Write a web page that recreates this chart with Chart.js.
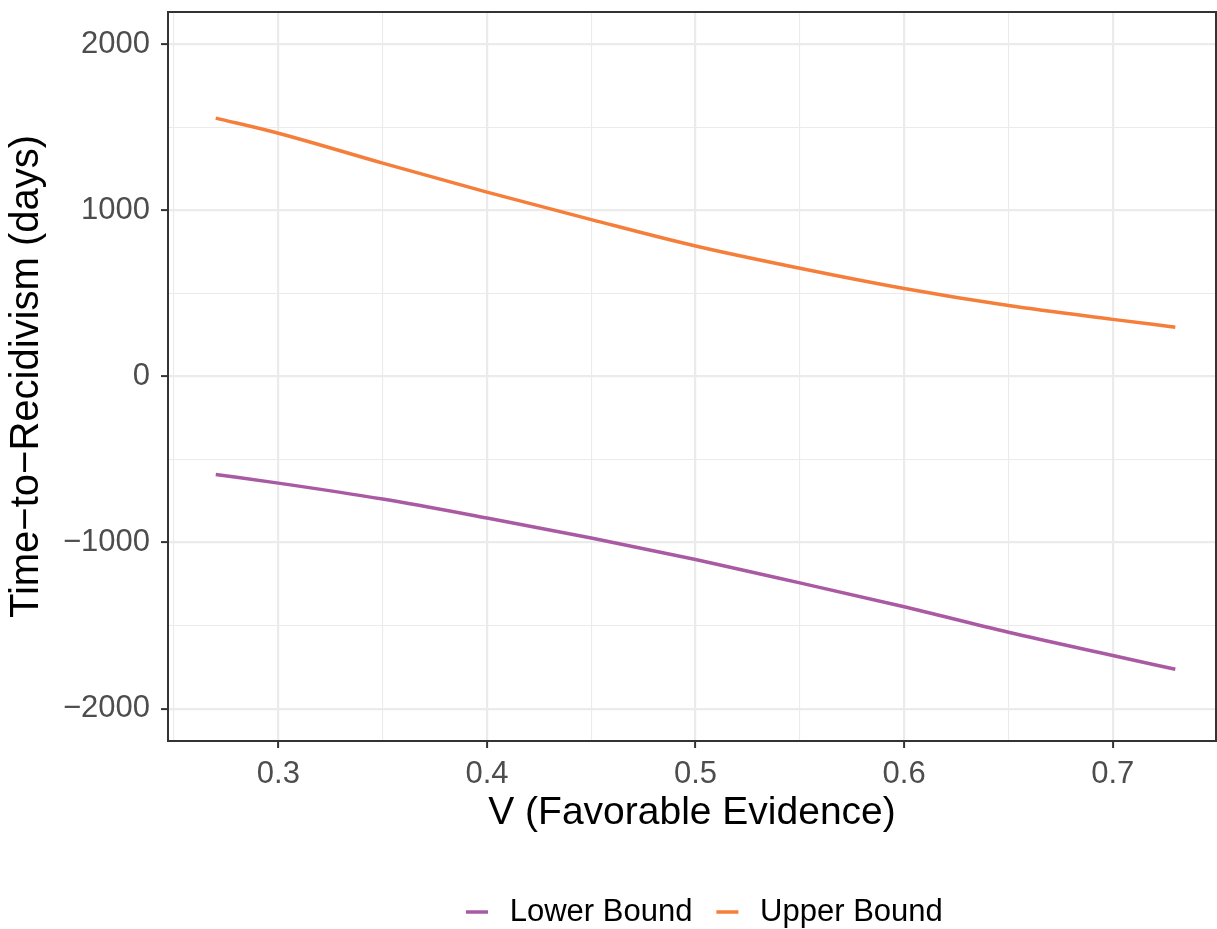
<!DOCTYPE html>
<html><head><meta charset="utf-8">
<script src="https://cdn.jsdelivr.net/npm/chart.js@4.4.1/dist/chart.umd.min.js"></script>
<style>html,body{margin:0;padding:0;background:#fff;}#wrap{width:1217px;height:929px;}</style>
</head><body><div id="wrap"><canvas id="c" width="1217" height="929"></canvas></div>
<script>
const xValues = [0.27, 0.30, 0.35, 0.40, 0.45, 0.50, 0.55, 0.60, 0.65, 0.70, 0.73];
const lowerBound = [-590, -642, -738, -852, -972, -1102, -1243, -1387, -1540, -1680, -1763];
const upperBound = [1556, 1465, 1285, 1110, 945, 786, 652, 530, 427, 344, 297];
const seriesNames = ['Lower Bound', 'Upper Bound'];
const seriesColors = ['#A95AA3', '#F47E3A'];
const xTicks = [0.25, 0.3, 0.35, 0.4, 0.45, 0.5, 0.55, 0.6, 0.65, 0.7, 0.75];
const xMajor = [0.3, 0.4, 0.5, 0.6, 0.7];
const yTicks = [-2000, -1500, -1000, -500, 0, 500, 1000, 1500, 2000];
const yMajor = [-2000, -1000, 0, 1000, 2000];
const xTitle = 'V (Favorable Evidence)';
const yTitle = 'Time\u2212to\u2212Recidivism (days)';

const isIn = (v, arr) => arr.some(a => Math.abs(a - v) < 1e-6);
Chart.defaults.font.family = '"Liberation Sans", Arial, sans-serif';

const frame = {
  id: 'frame',
  afterDatasetsDraw(chart) {
    const a = chart.chartArea, ctx = chart.ctx;
    ctx.save();
    ctx.strokeStyle = '#333333';
    ctx.lineWidth = 2;
    ctx.strokeRect(a.left, a.top, a.right - a.left, a.bottom - a.top);
    ctx.restore();
  }
};
const legendPlace = {
  id: 'legendPlace',
  afterLayout(chart) {
    const l = chart.legend;
    if (!l) return;
    const pad = l.options.labels.padding;
    const fs = l.options.labels.font.size;
    l.left = 466 - pad; l.right = l.left + 720; l.width = 720;
    l.top = 912 - pad - fs / 2; l.bottom = 929; l.height = l.bottom - l.top;
  }
};
const zeroPad = s => { s.paddingTop = 0; s.paddingBottom = 0; s.paddingLeft = 0; s.paddingRight = 0; };

const datasets = [lowerBound, upperBound].map((vals, i) => ({
  label: seriesNames[i],
  data: xValues.map((x, j) => ({x: x, y: vals[j]})),
  borderColor: seriesColors[i],
  backgroundColor: seriesColors[i],
  borderWidth: 3.5,
  pointRadius: 0,
  cubicInterpolationMode: 'monotone',
  fill: false
}));

new Chart(document.getElementById('c'), {
  type: 'line',
  data: {datasets},
  plugins: [frame, legendPlace],
  options: {
    responsive: false,
    animation: false,
    devicePixelRatio: 1,
    layout: {padding: {top: 12, right: 1, left: 0, bottom: 0}},
    plugins: {
      tooltip: {enabled: false},
      legend: {
        position: 'bottom',
        align: 'start',
        fullSize: false,
        labels: {
          usePointStyle: true,
          pointStyle: 'line',
          pointStyleWidth: 22,
          padding: 24,
          color: '#000000',
          font: {size: 31},
          generateLabels(chart) {
            const items = Chart.defaults.plugins.legend.labels.generateLabels(chart);
            items.forEach(it => { it.text = '\u2009' + it.text; it.pointStyle = 'line'; it.lineWidth = 3.5; });
            return items;
          }
        }
      }
    },
    scales: {
      x: {
        type: 'linear',
        min: 0.2471,
        max: 0.7495,
        afterBuildTicks(s) { s.ticks = xTicks.map(v => ({value: v})); },
        afterFit(s) { s.height = 123; zeroPad(s); },
        ticks: {
          autoSkip: false, maxRotation: 0, padding: 8, color: '#4D4D4D', font: {size: 31},
          callback: v => isIn(v, xMajor) ? v.toFixed(1) : ''
        },
        grid: {
          color: '#EBEBEB',
          lineWidth: c => isIn(c.tick.value, xMajor) ? 2.2 : 1.1,
          tickColor: c => isIn(c.tick.value, xMajor) ? '#333333' : 'rgba(0,0,0,0)',
          tickLength: 7, tickWidth: 2
        },
        border: {display: false},
        title: {display: true, text: xTitle, color: '#000000', font: {size: 39}, padding: {top: 0, bottom: 27}}
      },
      y: {
        type: 'linear',
        min: -2195,
        max: 2195,
        afterBuildTicks(s) { s.ticks = yTicks.map(v => ({value: v})); },
        afterFit(s) { s.width = 168; zeroPad(s); },
        ticks: {
          padding: 11, color: '#4D4D4D', font: {size: 31},
          callback: v => isIn(v, yMajor) ? String(v).replace('-', '\u2212') : ''
        },
        grid: {
          color: '#EBEBEB',
          lineWidth: c => isIn(c.tick.value, yMajor) ? 2.2 : 1.1,
          tickColor: c => isIn(c.tick.value, yMajor) ? '#333333' : 'rgba(0,0,0,0)',
          tickLength: 7, tickWidth: 2
        },
        border: {display: false},
        title: {display: true, text: yTitle, color: '#000000', font: {size: 40}, padding: {top: 3, bottom: 0}}
      }
    }
  }
});
</script></body></html>
